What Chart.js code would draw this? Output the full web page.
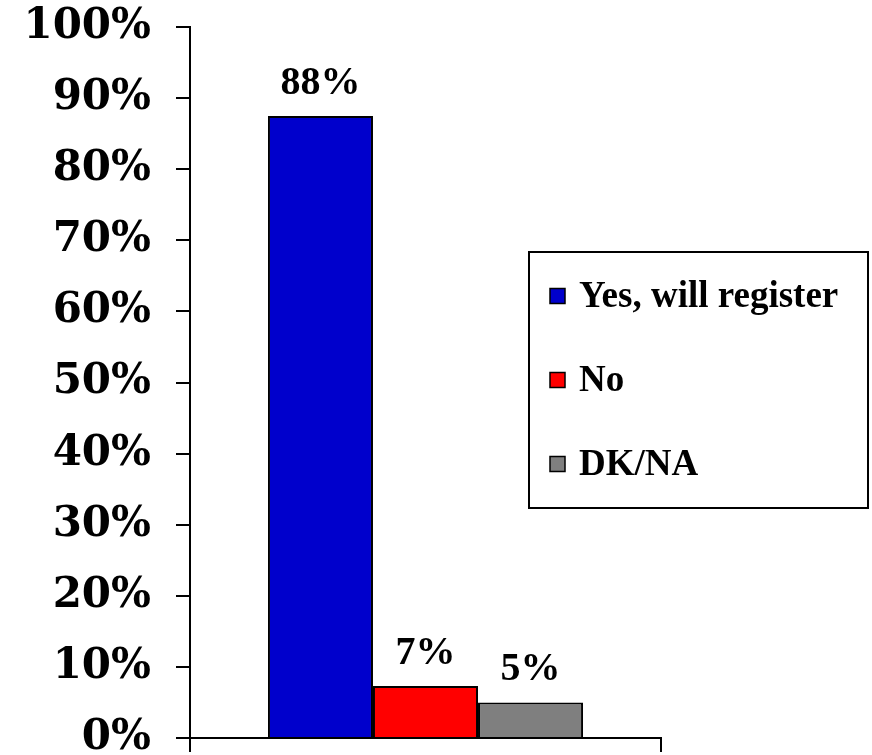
<!DOCTYPE html>
<html>
<head>
<meta charset="utf-8">
<script src="https://cdn.jsdelivr.net/npm/chart.js@4"></script>
<style>
  body { margin: 0; background: #fff; }
  #wrap { width: 872px; height: 755px; }
</style>
</head>
<body>
<div id="wrap"><canvas id="myBarChart"></canvas></div>
<script>
// values
const categories = [''];
const seriesNames = ['Yes, will register', 'No', 'DK/NA'];
const seriesValues = [[87.5], [7.3], [5.0]];
const seriesColors = ['#0000CC', '#FF0000', '#7F7F7F'];
const yTicks = [0, 10, 20, 30, 40, 50, 60, 70, 80, 90, 100];

// value labels over each bar
const barLabels = {
  id: 'barLabels',
  afterDatasetsDraw(chart) {
    const ctx = chart.ctx;
    ctx.save();
    ctx.font = "bold 40px 'Liberation Serif'";
    ctx.fillStyle = '#000';
    ctx.textAlign = 'center';
    ctx.textBaseline = 'alphabetic';
    chart.data.datasets.forEach(function (ds, i) {
      chart.getDatasetMeta(i).data.forEach(function (bar, j) {
        ctx.fillText(Math.round(ds.data[j]) + '%', bar.x, bar.y - 22);
      });
    });
    ctx.restore();
  }
};

// boxed legend sitting to the right, over the empty area
const boxLegend = {
  id: 'boxLegend',
  afterDraw(chart) {
    const ctx = chart.ctx;
    const left = 529, top = 252, w = 339, h = 256;
    ctx.save();
    ctx.lineWidth = 2;
    ctx.strokeStyle = '#000';
    ctx.strokeRect(left, top, w, h);
    ctx.font = "bold 37px 'Liberation Serif'";
    ctx.textBaseline = 'middle';
    ctx.textAlign = 'left';
    chart.data.datasets.forEach(function (ds, i) {
      const cy = top + 44 + i * 84;
      ctx.fillStyle = ds.backgroundColor;
      ctx.fillRect(left + 21, cy - 7.5, 15, 15);
      ctx.lineWidth = 1.5;
      ctx.strokeRect(left + 21, cy - 7.5, 15, 15);
      ctx.fillStyle = '#000';
      ctx.fillText(ds.label, left + 50, cy + 1);
    });
    ctx.restore();
  }
};

let ctx = document.getElementById('myBarChart');
let myBarChart = new Chart(ctx, {
  type: 'bar',
  data: {
    labels: categories,
    datasets: seriesNames.map(function (name, i) {
      return {
        label: name,
        data: seriesValues[i],
        backgroundColor: seriesColors[i],
        borderColor: '#000',
        borderWidth: 2,
        categoryPercentage: 0.669,
        barPercentage: 1.0
      };
    })
  },
  options: {
    responsive: true,
    maintainAspectRatio: false,
    animation: false,
    layout: {
      padding: { left: 0, right: 211, top: 27, bottom: 0 }
    },
    plugins: {
      legend: { display: false },
      tooltip: { enabled: false }
    },
    scales: {
      x: {
        grid: {
          offset: true,
          drawOnChartArea: false,
          tickLength: 14,
          color: '#000',
          lineWidth: 2
        },
        border: { display: true, color: '#000', width: 2 },
        ticks: { display: false },
        afterFit: function (scale) { scale.height = 17; }
      },
      y: {
        min: 0,
        max: 100,
        afterBuildTicks: function (scale) {
          scale.ticks = yTicks.map(function (v) { return { value: v }; });
        },
        grid: {
          drawOnChartArea: false,
          tickLength: 14,
          color: '#000',
          lineWidth: 2
        },
        border: { display: true, color: '#000', width: 2 },
        ticks: {
          padding: 25,
          color: '#000',
          font: { family: 'DejaVu Serif', weight: 'bold', size: 42 },
          callback: function (v) { return v + '%'; }
        },
        afterFit: function (scale) {
          scale.width = 190;
          scale.paddingTop = 0;
          scale.paddingBottom = 0;
        }
      }
    }
  },
  plugins: [barLabels, boxLegend]
});
</script>
</body>
</html>
